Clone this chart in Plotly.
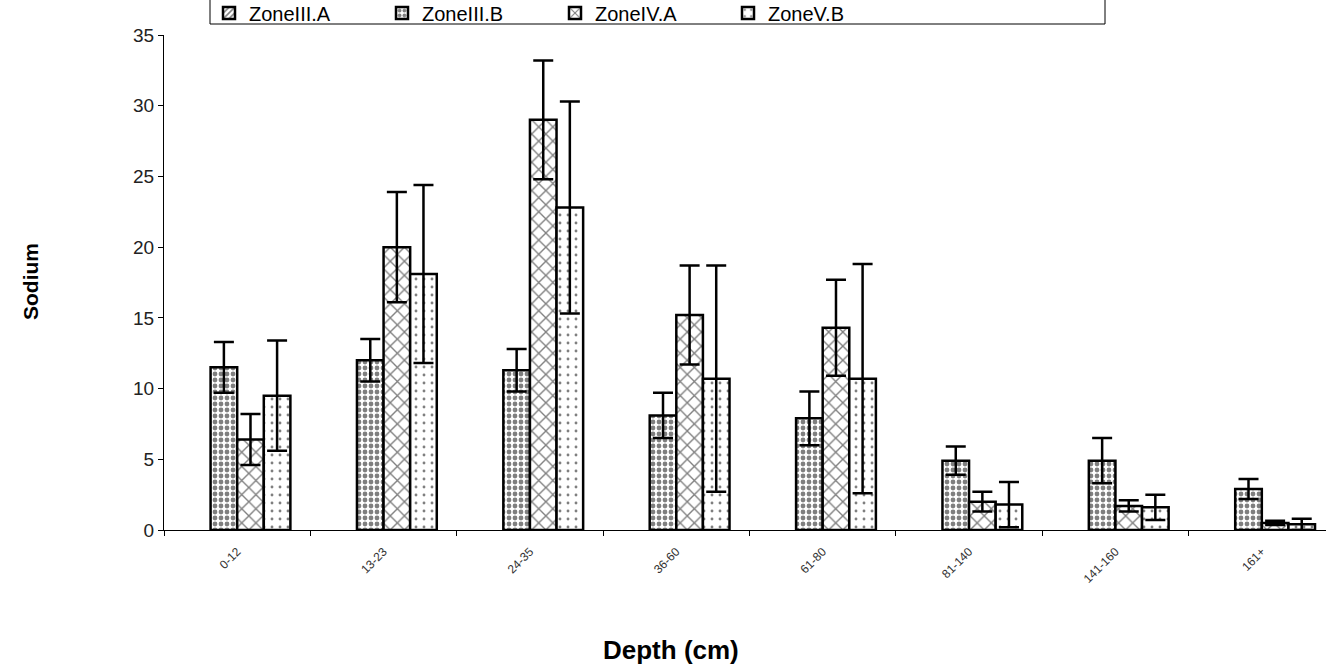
import plotly.graph_objects as go

categories = ["0-12", "13-23", "24-35", "36-60", "61-80", "81-140", "141-160", "161+"]
series_names = ["ZoneIII.A", "ZoneIII.B", "ZoneIV.A", "ZoneV.B"]

zone3a = [None, None, None, None, None, None, None, None]
zone3a_err = [None, None, None, None, None, None, None, None]
zone3b = [11.5, 12.0, 11.3, 8.1, 7.9, 4.9, 4.9, 2.9]
zone3b_err = [1.8, 1.5, 1.5, 1.6, 1.9, 1.0, 1.6, 0.7]
zone4a = [6.4, 20.0, 29.0, 15.2, 14.3, 2.0, 1.7, 0.5]
zone4a_err = [1.8, 3.9, 4.2, 3.5, 3.4, 0.7, 0.4, 0.15]
zone5b = [9.5, 18.1, 22.8, 10.7, 10.7, 1.8, 1.6, 0.4]
zone5b_err = [3.9, 6.3, 7.5, 8.0, 8.1, 1.6, 0.9, 0.4]

y_ticks = [0, 5, 10, 15, 20, 25, 30, 35]

W, H = 1335, 671
L, R, T, B = 164, 0, 35, 141
pw, ph = W - L - R, H - T - B

def px_x(p):
    return (p - L) / pw

def px_y(p):
    return (H - B - p) / ph

patterns = [
    dict(shape="/", size=5, solidity=0.4, fgcolor="black", bgcolor="white"),
    dict(shape=".", size=6, solidity=0.5, fgcolor="black", bgcolor="white"),
    dict(shape="x", size=10, solidity=0.25, fgcolor="black", bgcolor="white"),
    dict(shape=".", size=8, solidity=0.1, fgcolor="black", bgcolor="white"),
]

values = [zone3a, zone3b, zone4a, zone5b]
errors = [zone3a_err, zone3b_err, zone4a_err, zone5b_err]

fig = go.Figure()
for name, vals, errs, pat in zip(series_names, values, errors, patterns):
    fig.add_trace(go.Bar(
        name=name, x=categories, y=vals,
        marker=dict(color="white", line=dict(color="black", width=2.5), pattern=pat),
        error_y=dict(type="data", array=errs, visible=True, color="black",
                     thickness=2.5, width=10),
        showlegend=True,
    ))

fig.update_layout(
    width=W, height=H,
    margin=dict(l=L, r=R, t=T, b=B, autoexpand=False),
    paper_bgcolor="white", plot_bgcolor="white",
    barmode="group", bargap=0.273, bargroupgap=0,
    font=dict(family="Arial, Liberation Sans, sans-serif", color="black"),
    legend=dict(
        orientation="h", x=px_x(209), xanchor="left", y=px_y(13), yanchor="middle",
        entrywidth=128, entrywidthmode="pixels",
        font=dict(size=20, color="black"), bgcolor="rgba(0,0,0,0)", borderwidth=0,
        traceorder="normal",
    ),
    xaxis=dict(
        type="category", showline=True, linecolor="black", linewidth=1,
        ticks="outside", ticklen=5, tickcolor="black", tickson="boundaries",
        tickangle=-45, tickfont=dict(size=12, color="#333"),
        showgrid=False, zeroline=False, ticklabelstandoff=9,
    ),
    yaxis=dict(
        range=[0, 35], tickvals=y_ticks, showline=True, linecolor="black", linewidth=1,
        ticks="outside", ticklen=5, tickcolor="black",
        tickfont=dict(size=19, color="#222"), showgrid=False, zeroline=False,
    ),
    shapes=[
        dict(type="path", xref="paper", yref="paper",
             path=f"M {px_x(210)} {px_y(-20)} L {px_x(210)} {px_y(24)} L {px_x(1105)} {px_y(24)} L {px_x(1105)} {px_y(-20)}",
             line=dict(color="black", width=1)),
    ],
    annotations=[
        dict(text="<b>Sodium</b>", xref="paper", yref="paper", x=px_x(30), y=px_y(282),
             textangle=-90, showarrow=False, font=dict(size=21, color="black"),
             xanchor="center", yanchor="middle"),
        dict(text="<b>Depth (cm)</b>", xref="paper", yref="paper", x=px_x(671), y=px_y(650),
             showarrow=False, font=dict(size=26, color="black"),
             xanchor="center", yanchor="middle"),
    ],
)

fig.write_html(
    "out.html",
    config={"displayModeBar": False},
    post_script="document.body.style.margin='0';document.body.style.overflow='hidden';document.documentElement.style.overflow='hidden';",
)
